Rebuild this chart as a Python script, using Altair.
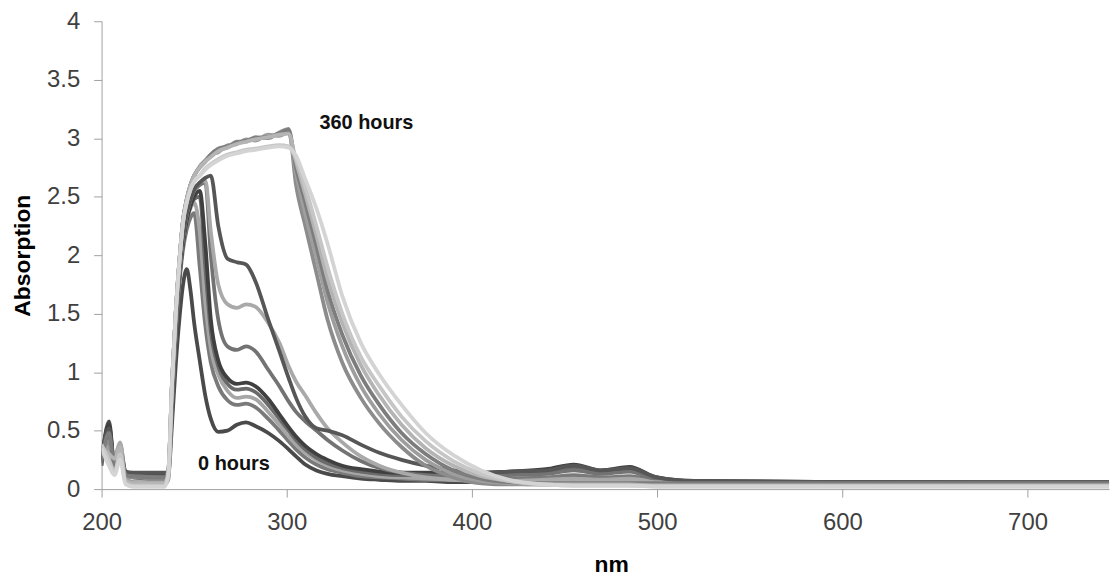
import altair as alt
import pandas as pd

# wavelength grid (nm)
NM = [200, 204, 207, 210, 213, 217, 234,
      236, 238, 240, 242, 244, 246, 248, 250, 253, 256, 259,
      263, 268, 273, 278, 283, 290, 296, 301, 305,
      310, 316, 322, 330, 340, 350, 362, 375, 390, 405,
      420, 440, 455, 470, 485, 500, 520, 600, 750]

# early spectra (0 hours ... ) - absorption values on NM grid
A0 = [0.22, 0.58, 0.20, 0.30, 0.12, 0.10, 0.08,
      0.10, 0.55, 1.05, 1.45, 1.75, 1.88, 1.70, 1.42, 1.10, 0.80, 0.60,
      0.49, 0.50, 0.55, 0.57, 0.54, 0.48, 0.41, 0.34, 0.28,
      0.21, 0.16, 0.13, 0.11, 0.09, 0.08, 0.07, 0.07, 0.06, 0.06,
      0.06, 0.07, 0.08, 0.07, 0.08, 0.06, 0.05, 0.05, 0.05]
A1 = [0.30, 0.45, 0.22, 0.38, 0.14, 0.12, 0.11,
      0.12, 0.70, 1.30, 1.75, 2.05, 2.22, 2.32, 2.36, 1.90, 1.40, 1.08,
      0.88, 0.76, 0.72, 0.73, 0.70, 0.60, 0.50, 0.41, 0.34,
      0.27, 0.21, 0.17, 0.14, 0.11, 0.10, 0.09, 0.08, 0.08, 0.08,
      0.09, 0.10, 0.12, 0.10, 0.11, 0.07, 0.05, 0.05, 0.05]
A2 = [0.35, 0.30, 0.25, 0.35, 0.10, 0.06, 0.05,
      0.08, 0.75, 1.35, 1.80, 2.10, 2.30, 2.40, 2.45, 2.20, 1.60, 1.20,
      0.98, 0.84, 0.78, 0.79, 0.77, 0.66, 0.55, 0.45, 0.38,
      0.31, 0.25, 0.20, 0.16, 0.13, 0.11, 0.10, 0.09, 0.08, 0.07,
      0.07, 0.08, 0.09, 0.08, 0.09, 0.06, 0.05, 0.05, 0.04]
A3 = [0.20, 0.50, 0.18, 0.32, 0.13, 0.12, 0.12,
      0.13, 0.75, 1.35, 1.80, 2.10, 2.30, 2.42, 2.48, 2.50, 1.90, 1.35,
      1.05, 0.90, 0.85, 0.86, 0.83, 0.72, 0.60, 0.50, 0.42,
      0.34, 0.27, 0.22, 0.18, 0.15, 0.13, 0.12, 0.12, 0.12, 0.12,
      0.13, 0.15, 0.18, 0.14, 0.16, 0.09, 0.06, 0.06, 0.05]
A4 = [0.25, 0.55, 0.20, 0.30, 0.14, 0.13, 0.13,
      0.14, 0.75, 1.35, 1.80, 2.10, 2.30, 2.42, 2.50, 2.55, 2.10, 1.45,
      1.10, 0.95, 0.90, 0.91, 0.88, 0.77, 0.64, 0.53, 0.45,
      0.37, 0.30, 0.25, 0.20, 0.17, 0.15, 0.14, 0.14, 0.14, 0.14,
      0.15, 0.17, 0.21, 0.16, 0.19, 0.10, 0.07, 0.06, 0.06]
A5 = [0.30, 0.40, 0.22, 0.36, 0.13, 0.11, 0.10,
      0.12, 0.80, 1.40, 1.85, 2.15, 2.35, 2.47, 2.55, 2.60, 2.62, 2.00,
      1.45, 1.22, 1.19, 1.22, 1.18, 1.02, 0.88, 0.75, 0.66,
      0.58, 0.50, 0.42, 0.33, 0.24, 0.18, 0.14, 0.12, 0.11, 0.11,
      0.12, 0.13, 0.16, 0.13, 0.15, 0.08, 0.06, 0.05, 0.05]
A6 = [0.38, 0.35, 0.28, 0.40, 0.10, 0.05, 0.04,
      0.08, 0.80, 1.40, 1.85, 2.15, 2.35, 2.48, 2.56, 2.62, 2.64, 2.20,
      1.75, 1.58, 1.55, 1.58, 1.56, 1.42, 1.25, 1.05, 0.92,
      0.80, 0.65, 0.52, 0.40, 0.28, 0.20, 0.14, 0.10, 0.08, 0.07,
      0.07, 0.07, 0.08, 0.07, 0.08, 0.06, 0.05, 0.04, 0.04]
A7 = [0.28, 0.52, 0.20, 0.33, 0.15, 0.14, 0.14,
      0.15, 0.80, 1.40, 1.85, 2.15, 2.35, 2.47, 2.56, 2.62, 2.66, 2.68,
      2.25, 1.97, 1.94, 1.92, 1.78, 1.45, 1.18, 0.95, 0.78,
      0.62, 0.52, 0.50, 0.46, 0.38, 0.31, 0.25, 0.20, 0.16, 0.14,
      0.15, 0.16, 0.20, 0.16, 0.18, 0.10, 0.07, 0.06, 0.06]
# later spectra (... 360 hours)
B1 = [0.32, 0.40, 0.20, 0.30, 0.12, 0.10, 0.09,
      0.15, 0.90, 1.50, 1.95, 2.30, 2.48, 2.60, 2.68, 2.75, 2.80, 2.85,
      2.90, 2.92, 2.97, 2.97, 3.01, 3.00, 3.05, 3.08, 2.60,
      2.25, 1.85, 1.45, 1.08, 0.78, 0.56, 0.36, 0.20, 0.10, 0.05,
      0.04, 0.04, 0.04, 0.04, 0.04, 0.04, 0.04, 0.04, 0.04]
B2 = [0.28, 0.35, 0.24, 0.33, 0.08, 0.06, 0.06,
      0.15, 0.90, 1.50, 1.95, 2.30, 2.48, 2.60, 2.68, 2.76, 2.81, 2.86,
      2.88, 2.94, 2.95, 2.99, 2.98, 3.03, 3.02, 3.05, 2.70,
      2.35, 1.98, 1.60, 1.22, 0.88, 0.64, 0.42, 0.25, 0.13, 0.07,
      0.05, 0.04, 0.04, 0.04, 0.04, 0.03, 0.03, 0.03, 0.03]
B3 = [0.25, 0.48, 0.18, 0.30, 0.12, 0.11, 0.10,
      0.15, 0.90, 1.50, 1.95, 2.30, 2.48, 2.60, 2.68, 2.75, 2.80, 2.86,
      2.91, 2.93, 2.96, 2.98, 3.00, 3.01, 3.04, 3.07, 2.75,
      2.45, 2.08, 1.70, 1.32, 0.97, 0.72, 0.48, 0.30, 0.16, 0.09,
      0.06, 0.05, 0.05, 0.05, 0.05, 0.05, 0.05, 0.05, 0.05]
B4 = [0.36, 0.30, 0.26, 0.36, 0.07, 0.05, 0.05,
      0.14, 0.90, 1.50, 1.95, 2.30, 2.48, 2.60, 2.68, 2.75, 2.80, 2.84,
      2.89, 2.92, 2.95, 2.97, 2.99, 3.01, 3.03, 3.04, 2.80,
      2.52, 2.17, 1.80, 1.42, 1.06, 0.80, 0.55, 0.35, 0.20, 0.11,
      0.07, 0.04, 0.04, 0.04, 0.04, 0.03, 0.03, 0.03, 0.03]
B5 = [0.38, 0.25, 0.15, 0.30, 0.05, 0.03, 0.03,
      0.12, 0.88, 1.48, 1.93, 2.28, 2.45, 2.56, 2.63, 2.68, 2.74, 2.78,
      2.82, 2.86, 2.88, 2.90, 2.91, 2.93, 2.94, 2.93, 2.82,
      2.58, 2.25, 1.90, 1.50, 1.13, 0.88, 0.62, 0.41, 0.24, 0.13,
      0.07, 0.04, 0.03, 0.03, 0.03, 0.03, 0.03, 0.03, 0.03]
B6 = [0.35, 0.20, 0.12, 0.25, 0.04, 0.02, 0.02,
      0.12, 0.88, 1.48, 1.93, 2.28, 2.45, 2.56, 2.63, 2.68, 2.73, 2.77,
      2.81, 2.85, 2.87, 2.89, 2.90, 2.92, 2.93, 2.92, 2.85,
      2.65, 2.40, 2.10, 1.65, 1.25, 0.98, 0.72, 0.48, 0.29, 0.16,
      0.08, 0.04, 0.03, 0.03, 0.03, 0.02, 0.02, 0.02, 0.02]

SERIES_NAMES = ["a0", "a1", "a2", "a3", "a4", "a5", "a6", "a7",
                "b1", "b2", "b3", "b4", "b5", "b6"]
SERIES_VALUES = [A0, A1, A2, A3, A4, A5, A6, A7, B1, B2, B3, B4, B5, B6]
SERIES_COLORS = ["#4a4a4a", "#7a7a7a", "#a6a6a6", "#6a6a6a", "#404040", "#737373",
                 "#a9a9a9", "#565656", "#8c8c8c", "#9e9e9e", "#7d7d7d", "#b4b4b4",
                 "#c6c6c6", "#d4d4d4"]

X_TICKS = [200, 300, 400, 500, 600, 700]
Y_TICKS = [0, 0.5, 1, 1.5, 2, 2.5, 3, 3.5, 4]

LABEL_TEXT = ["360 hours", "0 hours"]
LABEL_NM = [343, 271.5]
LABEL_ABS = [3.13, 0.215]

rows = []
for name, vals in zip(SERIES_NAMES, SERIES_VALUES):
    for i, (w, v) in enumerate(zip(NM, vals)):
        rows.append({"series": name, "nm": w, "abs": v, "idx": i})
df = pd.DataFrame(rows)

FONT = "Liberation Sans"

lines = alt.Chart(df).mark_line(strokeWidth=3.8, interpolate="monotone", clip=True).encode(
    x=alt.X("nm:Q",
            scale=alt.Scale(domain=[200, 744], nice=False, zero=False),
            axis=alt.Axis(values=X_TICKS, format="d", title="nm", labelFlush=False,
                          titleX=512, titleY=83, titleBaseline="alphabetic",
                          titleAlign="center")),
    y=alt.Y("abs:Q",
            scale=alt.Scale(domain=[0, 4], nice=False),
            axis=alt.Axis(values=Y_TICKS, format=".1~f", title="Absorption",
                          labelFlush=False, titleX=-79, titleY=235,
                          titleAngle=-90, titleAlign="center",
                          titleBaseline="middle")),
    color=alt.Color("series:N",
                    scale=alt.Scale(domain=SERIES_NAMES, range=SERIES_COLORS),
                    legend=None),
    order=alt.Order("idx:Q"),
)

labels_df = pd.DataFrame({"text": LABEL_TEXT, "nm": LABEL_NM, "abs": LABEL_ABS})
labels = alt.Chart(labels_df).mark_text(
    font=FONT, fontSize=20, fontWeight="bold", color="#111111"
).encode(x="nm:Q", y="abs:Q", text="text:N")

chart = alt.layer(lines, labels).properties(
    width=1012, height=470,
    padding={"left": 94, "top": 12, "right": 2, "bottom": 88},
    autosize=alt.AutoSizeParams(type="none"),
).configure_view(stroke=None).configure_axis(
    grid=False,
    domainColor="#a0a0a0", tickColor="#a0a0a0", tickSize=8,
    labelFont=FONT, labelFontSize=24, labelColor="#404040", labelPadding=14,
    titleFont=FONT, titleFontSize=23, titleFontWeight="bold", titleColor="#000000",
)

chart.save("out.html", embed_options={"renderer": "svg", "actions": False})
